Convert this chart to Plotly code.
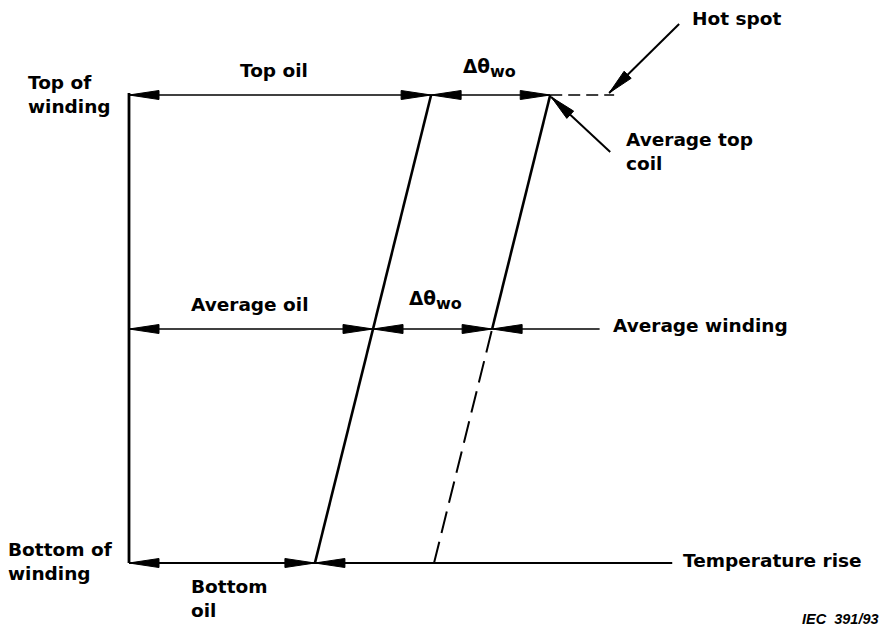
import plotly.graph_objects as go

# ---- data (temperature rise in arbitrary units, height as fraction of winding) ----
heights = [0.0, 0.5, 1.0]                 # bottom, average, top of winding
oil_rise = [32.0, 42.0, 52.0]             # bottom oil, average oil, top oil
dtheta_wo = 20.5                          # winding-to-oil gradient
winding_rise = [o + dtheta_wo for o in oil_rise]
hot_spot_rise = 83.5
avg_winding_pointer_end = 81.0
temp_axis_end = 93.5

# ---- geometry helpers (pixel <-> data scale) ----
W, H = 887, 633
X0PX, Y0PX = 129, 563        # pixel position of data origin
PX, PY = 5.81, 468.0         # px per data unit

def dx(p):
    return p / PX

def dy(p):
    return p / PY

def px2x(p):
    return (p - X0PX) / PX

def py2y(p):
    return (Y0PX - p) / PY

shapes = []

def line(x0, y0, x1, y1, width=2, dash="solid"):
    shapes.append(dict(type="line", xref="x", yref="y", x0=x0, y0=y0, x1=x1, y1=y1,
                       line=dict(color="black", width=width, dash=dash)))

def head(tx, ty, ux, uy, length=30, half=4.5):
    # tip at data (tx,ty); (ux,uy) unit direction of arrow in pixel space (y down)
    tpx, tpy = X0PX + tx * PX, Y0PX - ty * PY
    bx, by = tpx - ux * length, tpy - uy * length
    nx, ny = -uy, ux
    pts = [(tpx, tpy), (bx + nx * half, by + ny * half), (bx - nx * half, by - ny * half)]
    path = "M " + " L ".join(f"{px2x(a):.4f},{py2y(b):.5f}" for a, b in pts) + " Z"
    shapes.append(dict(type="path", xref="x", yref="y", path=path,
                       fillcolor="black", line=dict(color="black", width=1)))

bot, avg, top = heights

# vertical height axis
line(0, bot, 0, top + dy(2), width=2.8)
# horizontal levels
line(0, top, winding_rise[2], top, width=1.7)
line(winding_rise[2], top, hot_spot_rise, top, width=1.7, dash="12px,6px")
line(0, avg, avg_winding_pointer_end, avg, width=1.7)
line(0, bot, temp_axis_end, bot, width=2.0)

# oil line
line(oil_rise[0], bot, oil_rise[2], top, width=2.6)
# winding line: solid upper half, dashed lower half
line(winding_rise[1], avg, winding_rise[2], top, width=2.6)
line(winding_rise[0], bot, winding_rise[1], avg, width=2.0, dash="22px,9px")

# arrowheads on dimension lines
# top
head(0, top, -1, 0)
head(oil_rise[2], top, 1, 0)
head(oil_rise[2], top, -1, 0)
head(winding_rise[2], top, 1, 0)
# average
head(0, avg, -1, 0)
head(oil_rise[1], avg, 1, 0)
head(oil_rise[1], avg, -1, 0)
head(winding_rise[1], avg, 1, 0)
head(winding_rise[1], avg, -1, 0)
# bottom
head(0, bot, -1, 0)
head(oil_rise[0], bot, 1, 0)
head(oil_rise[0], bot, -1, 0)

# leader: hot spot
hs_tip = (hot_spot_rise - dx(5), top + dy(2))
hs_tail = (hs_tip[0] + dx(70), hs_tip[1] + dy(69))
line(hs_tail[0], hs_tail[1], hs_tip[0], hs_tip[1], width=2.0)
head(hs_tip[0], hs_tip[1], -0.712, 0.702, length=26, half=5)
# leader: average top coil
ac_tip = (winding_rise[2] + dx(1), top - dy(2))
ac_tail = (ac_tip[0] + dx(59), ac_tip[1] - dy(55))
line(ac_tail[0], ac_tail[1], ac_tip[0], ac_tip[1], width=2.0)
head(ac_tip[0], ac_tip[1], -0.731, -0.682, length=26, half=5)

FONT = dict(family="DejaVu Sans, Liberation Sans, sans-serif", size=18.5, color="black")
annotations = []

def txt(s, xpx, ypx, xanchor="left", yanchor="middle", align="left", font=None):
    annotations.append(dict(text=s, x=px2x(xpx), y=py2y(ypx), xref="x", yref="y",
                            xanchor=xanchor, yanchor=yanchor, align=align, showarrow=False,
                            font=font or FONT))

DTW = "<b>Δθ<sub><span style='font-size:16px'>wo</span></sub></b>"
txt("<b>Top of<br>winding</b>", 26, 94)
txt("<b>Top oil</b>", 274, 70, xanchor="center")
txt(DTW, 461, 68)
txt("<b>Hot spot</b>", 690, 18)
txt("<b>Average top<br>coil</b>", 624, 151)
txt("<b>Average oil</b>", 250, 304, xanchor="center")
txt(DTW, 407, 300)
txt("<b>Average winding</b>", 611, 325)
txt("<b>Bottom of<br>winding</b>", 6, 561)
txt("<b>Bottom<br>oil</b>", 189, 598)
txt("<b>Temperature rise</b>", 681, 560)
txt("<b><i>IEC  391/93</i></b>", 881, 619, xanchor="right",
    font=dict(family="Liberation Sans, Arial, sans-serif", size=14.5, color="black"))

fig = go.Figure()
fig.add_trace(go.Scatter(x=[0], y=[0], mode="markers", marker=dict(size=1, opacity=0),
                         hoverinfo="skip", showlegend=False))
fig.update_layout(
    width=W, height=H,
    margin=dict(l=0, r=0, t=0, b=0),
    paper_bgcolor="white", plot_bgcolor="white",
    xaxis=dict(range=[px2x(0), px2x(W)], visible=False, fixedrange=True),
    yaxis=dict(range=[py2y(H), py2y(0)], visible=False, fixedrange=True),
    shapes=shapes, annotations=annotations, showlegend=False,
)
fig.write_html("out.html", config=dict(displayModeBar=False),
               post_script="document.body.style.margin='0';document.body.style.overflow='hidden';")
